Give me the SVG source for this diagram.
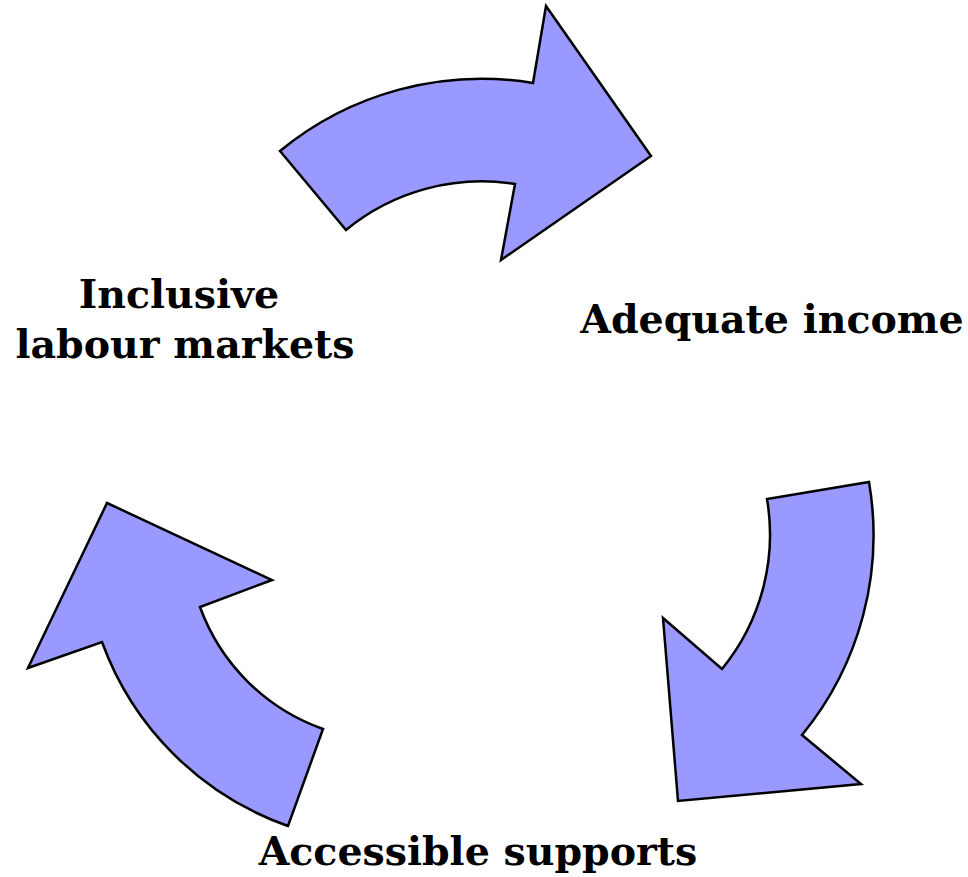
<svg xmlns="http://www.w3.org/2000/svg" width="968" height="877" viewBox="0 0 968 877">
  <style>
    .arrow { fill: #9999ff; stroke: #000; stroke-width: 2.5; stroke-linejoin: miter; }
    .label { font-family: "DejaVu Serif", "Liberation Serif", serif; font-weight: bold; font-size: 39.5px; fill: #000; text-anchor: middle; }
  </style>
  <rect width="968" height="877" fill="#fff"/>
  <g id="connectors">
    <path id="arrow-top" class="arrow" d="M 280,151 A 317 317 0 0 1 533,83 L 546,6 L 651,156 L 501,260 L 515,184 A 214 214 0 0 0 346,230 Z"/>
    <path id="arrow-right" class="arrow" d="M 869,482 A 315 315 0 0 1 802,735 L 861,784 L 678,801 L 663,618 L 722,669 A 212 212 0 0 0 767,499 Z"/>
    <path id="arrow-left" class="arrow" d="M 288,826 A 306 306 0 0 1 102,642 L 28,668 L 107,503 L 272,580 L 200,607 A 203 203 0 0 0 323,729 Z"/>
  </g>
  <g id="node-labour">
    <text class="label" x="179" y="308">Inclusive</text>
    <text class="label" x="185" y="358">labour markets</text>
  </g>
  <g id="node-income">
    <text class="label" x="772" y="333">Adequate income</text>
  </g>
  <g id="node-supports">
    <text class="label" x="478" y="865">Accessible supports</text>
  </g>
</svg>
